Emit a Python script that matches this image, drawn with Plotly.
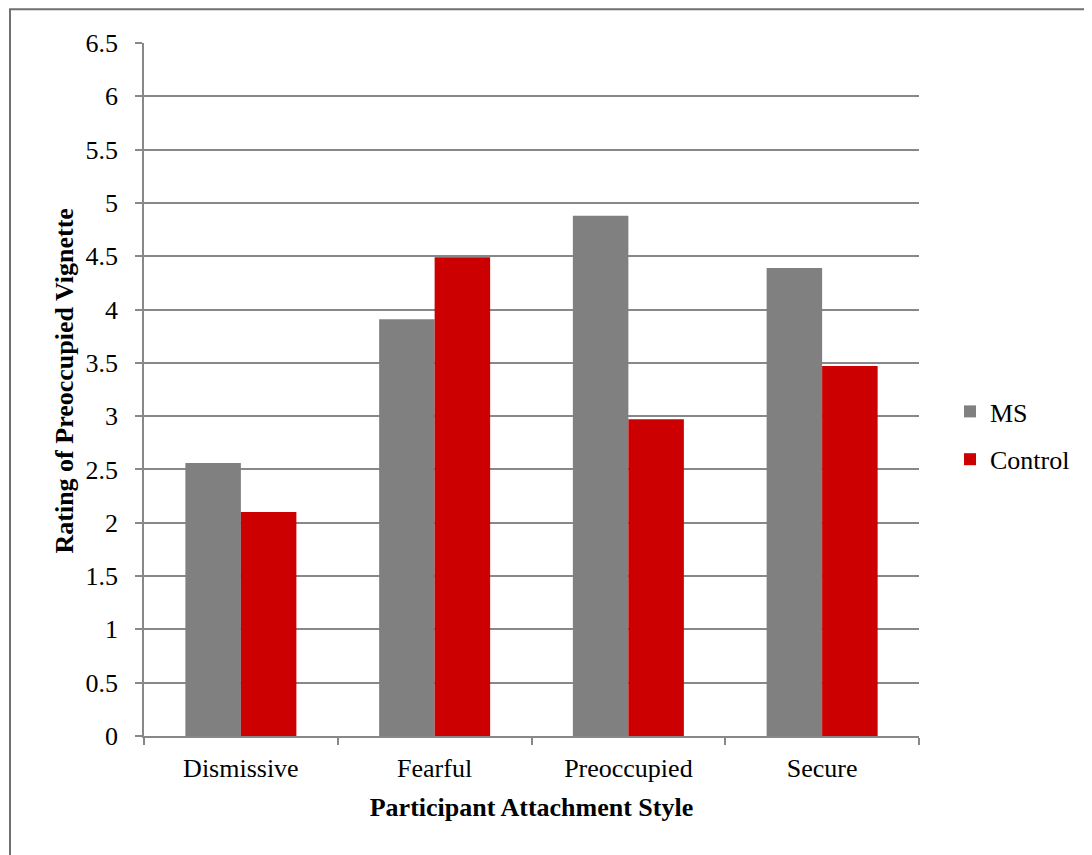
import plotly.graph_objects as go

categories = ["Dismissive", "Fearful", "Preoccupied", "Secure"]
ms_values = [2.56, 3.91, 4.88, 4.39]
control_values = [2.10, 4.49, 2.97, 3.47]
y_ticks = [0, 0.5, 1, 1.5, 2, 2.5, 3, 3.5, 4, 4.5, 5, 5.5, 6, 6.5]
y_tick_labels = ["0", "0.5", "1", "1.5", "2", "2.5", "3", "3.5", "4", "4.5", "5", "5.5", "6", "6.5"]
x_title = "Participant Attachment Style"
y_title = "Rating of Preoccupied Vignette"

# page body has an 8px margin, so the figure is drawn in page coords minus 8
W, H = 1084, 847
L, T = 136, 35
R = W - 911
B = H - 728
pw, ph = W - L - R, H - T - B

FONT = "Liberation Serif"
FS = 26

fig = go.Figure()
fig.add_trace(go.Bar(name="MS", x=categories, y=ms_values, marker_color="#808080",
                     marker_line_width=0, legendgroup="ms"))
fig.add_trace(go.Bar(name="Control", x=categories, y=control_values, marker_color="#CC0000",
                     marker_line_width=0, legendgroup="control"))

def px_x(p):
    return (p - L) / pw

def px_y(p):
    return (H - B - p) / ph

fig.update_layout(
    width=W, height=H,
    margin=dict(l=L, r=R, t=T, b=B, pad=0),
    paper_bgcolor="white", plot_bgcolor="white",
    barmode="group", bargap=0.427, bargroupgap=0,
    font=dict(family=FONT, size=FS, color="black"),
    showlegend=True,
    legend=dict(x=px_x(942), y=px_y(380), xanchor="left", yanchor="top",
                font=dict(family=FONT, size=FS, color="black"),
                itemwidth=30, tracegroupgap=11, bgcolor="rgba(0,0,0,0)"),
    xaxis=dict(
        showline=True, linecolor="#888888", linewidth=1.5,
        ticks="outside", tickson="boundaries", ticklen=7, tickcolor="#888888", tickwidth=1.5,
        showgrid=False,
        ticklabelstandoff=8,
        tickfont=dict(family=FONT, size=FS, color="black"),
        title=dict(text="<b>" + x_title + "</b>", standoff=16,
                   font=dict(family=FONT, size=FS, color="black")),
    ),
    yaxis=dict(
        range=[0, 6.5], tickvals=y_ticks, ticktext=y_tick_labels,
        showline=True, linecolor="#888888", linewidth=1.5,
        ticks="outside", ticklen=7, tickcolor="#888888", tickwidth=1.5,
        showgrid=True, gridcolor="#888888", gridwidth=1.5,
        zeroline=False,
        ticklabelstandoff=12,
        tickfont=dict(family=FONT, size=FS, color="black"),
    ),
    annotations=[dict(text="<b>" + y_title + "</b>", xref="paper", yref="paper",
                      x=px_x(56), y=px_y(373.5), xanchor="center", yanchor="middle",
                      textangle=-90, showarrow=False,
                      font=dict(family=FONT, size=FS, color="black"))],
    shapes=[dict(type="rect", xref="paper", yref="paper",
                 x0=px_x(2), x1=px_x(1100), y0=px_y(870), y1=px_y(1.3),
                 line=dict(color="#707070", width=2), fillcolor="rgba(0,0,0,0)", layer="below")],
)

fig.write_html("out.html")
